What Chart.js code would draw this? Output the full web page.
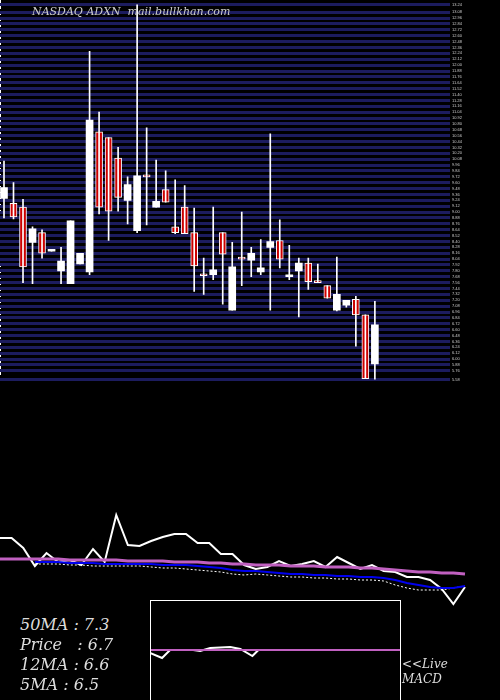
<!DOCTYPE html>
<html>
<head>
<script src="https://cdn.jsdelivr.net/npm/chart.js@4"></script>
<style>
  body { margin: 0; background: #000; width: 500px; height: 700px; position: relative; overflow: hidden; }
  canvas { position: absolute; }
  .txt { position: absolute; color: #ddd; font-family: "DejaVu Serif", serif; font-style: italic; white-space: pre; }
</style>
</head>
<body>
<canvas id="candles" style="left:0;top:0;width:500px;height:384px"></canvas>
<canvas id="ma" style="left:0;top:500px;width:500px;height:110px"></canvas>
<canvas id="macd" style="left:150px;top:600px;width:251px;height:100px"></canvas>
<div class="txt" style="left:32px;top:5px;font-size:11px;color:#ccc">NASDAQ ADXN  mail.bullkhan.com</div>
<div class="txt" style="left:20px;top:615px;font-size:16px">50MA : 7.3</div>
<div class="txt" style="left:20px;top:635px;font-size:16px">Price   : 6.7</div>
<div class="txt" style="left:20px;top:655px;font-size:16px">12MA : 6.6</div>
<div class="txt" style="left:20px;top:675px;font-size:16px">5MA : 6.5</div>
<div class="txt" style="left:402px;top:657px;font-size:12px">&lt;&lt;Live</div>
<div class="txt" style="left:402px;top:672px;font-size:12px">MACD</div>
<script>
// candles: open, high, low, close
const opens  = [9.28,9.18,9.10,8.38,8.58,8.20,7.80,7.54,7.94,7.78,10.64,10.52,10.10,9.24,8.62,9.76,9.10,9.46,8.70,9.10,8.58,7.74,7.72,8.58,7.00,8.08,8.02,7.78,8.28,8.42,7.68,7.80,7.96,7.60,7.50,7.00,7.10,7.22,6.90,5.90];
const highs  = [10.04,9.60,9.26,8.70,8.64,8.24,8.28,8.82,8.16,12.28,11.04,10.52,10.32,9.72,13.24,10.72,10.06,9.84,9.66,9.54,9.08,8.06,9.10,8.58,8.38,9.00,8.28,8.44,10.60,8.84,8.32,8.06,8.06,7.94,7.50,8.08,7.20,7.28,6.90,7.18];
const lows   = [8.88,8.86,7.56,7.54,8.06,8.20,7.54,7.54,7.94,7.72,8.96,8.42,9.02,8.76,8.58,8.74,9.10,9.20,8.56,8.56,7.38,7.32,7.62,7.12,7.00,7.50,7.68,7.72,7.00,7.86,7.62,6.86,7.42,7.56,7.24,6.98,7.06,6.26,5.60,5.58];
const closes = [9.50,8.90,7.88,8.66,8.16,8.24,8.00,8.82,8.16,10.88,9.10,9.02,9.30,9.56,9.74,9.72,9.22,9.20,8.58,8.56,7.90,7.70,7.82,8.14,7.88,8.04,8.16,7.86,8.40,8.04,7.70,7.96,7.58,7.56,7.24,7.32,7.20,6.90,5.60,6.70];

// lower panel lines
const priceLine = [7.2,7.2,6.2,4.4,5.7,4.8,5.0,4.5,6.1,4.8,9.5,6.5,6.4,6.9,7.3,7.6,7.6,6.7,6.7,5.6,5.6,4.5,4.1,4.3,4.9,4.4,4.6,4.9,4.3,5.3,4.7,4.1,4.5,3.9,3.8,3.3,3.3,3.0,2.1,0.6,2.3];
const ma50 = [5.1,5.1,5.1,5.1,5.1,5.1,5.0,5.0,5.0,5.0,5.0,4.9,4.9,4.9,4.9,4.8,4.8,4.8,4.7,4.7,4.6,4.6,4.5,4.5,4.5,4.4,4.4,4.4,4.3,4.3,4.3,4.2,4.2,4.1,4.0,3.9,3.8,3.8,3.7,3.7,3.6];
const ma12 = [null,null,null,4.8,4.8,4.8,4.7,4.7,4.7,4.6,4.6,4.6,4.6,4.6,4.5,4.5,4.5,4.4,4.3,4.2,4.0,3.9,3.9,3.8,3.7,3.6,3.6,3.5,3.5,3.4,3.4,3.3,3.3,3.2,3.0,2.7,2.5,2.3,2.2,2.2,2.4];
const ma5 = [null,null,null,4.6,4.6,4.6,4.5,4.5,4.4,4.4,4.4,4.4,4.4,4.3,4.2,4.2,4.1,4.0,3.9,3.8,3.6,3.5,3.6,3.5,3.4,3.3,3.3,3.2,3.2,3.1,3.1,3.0,3.0,2.9,2.5,2.2,2.0,2.0,2.0,2.2,2.4];

// macd box lines
const macdX = [0,12,20,43,50,60,80,90,102,108,237];
const macdLine = [-0.3,-0.8,0,0,-0.1,0.2,0.3,0.1,-0.6,0,0];

const isUp = opens.map((o, i) => closes[i] >= o);
const wicks = lows.map((l, i) => ({ x: i, y: [l, highs[i]] }));
const bodies = opens.map((o, i) => {
  let a = o, b = closes[i];
  if (Math.abs(a - b) < 0.04) b = a + (isUp[i] ? 0.04 : -0.04);
  return { x: i, y: [a, b] };
});

new Chart(document.getElementById("candles"), {
  type: "bar",
  data: {
    datasets: [
      { data: wicks, backgroundColor: "#fff", barThickness: 1, grouped: false },
      {
        data: bodies,
        backgroundColor: isUp.map(u => (u ? "#fff" : "#cc0000")),
        borderColor: "#fff",
        borderWidth: isUp.map(u => (u ? 0 : 1)),
        borderSkipped: false,
        barThickness: 7,
        grouped: false,
      },
    ],
  },
  options: {
    animation: false,
    responsive: false,
    devicePixelRatio: 1,
    layout: { padding: 0 },
    plugins: { legend: { display: false }, tooltip: { enabled: false } },
    scales: {
      x: { type: "linear", min: -0.42, max: 46.9, display: false, offset: false, grid: { offset: false } },
      y: {
        position: "right",
        min: 5.58,
        max: 13.24,
        afterFit: s => { s.width = 50; },
        ticks: { stepSize: 0.12, maxTicksLimit: 200, autoSkip: false, color: "#ccc", font: { size: 4 }, padding: 2, callback: v => v.toFixed(2) },
        grid: { color: "#1c1c5e", lineWidth: 3, drawTicks: false },
        border: { display: false },
      },
    },
  },
  plugins: [{
    id: "bg",
    beforeDraw(c) {
      const g = c.ctx;
      g.save();
      g.fillStyle = "#000";
      g.fillRect(0, 0, c.width, c.height);
      g.strokeStyle = "#fff";
      g.setLineDash([3, 3]);
      g.beginPath(); g.moveTo(0.5, 0); g.lineTo(0.5, c.chartArea.bottom); g.stroke();
      g.restore();
    },
  }],
});

new Chart(document.getElementById("ma"), {
  type: "line",
  data: {
    labels: priceLine.map((_, i) => i),
    datasets: [
      { data: ma50, borderColor: "#c060c0", borderWidth: 3, pointRadius: 0 },
      { data: ma12, borderColor: "#0000ee", borderWidth: 2, pointRadius: 0 },
      { data: ma5, borderColor: "#fff", borderWidth: 1, borderDash: [2, 2], pointRadius: 0 },
      { data: priceLine, borderColor: "#fff", borderWidth: 2, pointRadius: 0 },
    ],
  },
  options: {
    animation: false,
    responsive: false,
    devicePixelRatio: 1,
    layout: { padding: { left: 0, right: 35 } },
    plugins: { legend: { display: false }, tooltip: { enabled: false } },
    scales: {
      x: { display: false, offset: false },
      y: { display: false, min: 0, max: 11 },
    },
  },
});

new Chart(document.getElementById("macd"), {
  type: "line",
  data: {
    datasets: [
      { data: [{ x: 0, y: 0 }, { x: 250, y: 0 }], borderColor: "#c060c0", borderWidth: 2, pointRadius: 0 },
      { data: macdX.map((x, i) => ({ x: x, y: macdLine[i] })), borderColor: "#fff", borderWidth: 2, pointRadius: 0 },
    ],
  },
  options: {
    animation: false,
    responsive: false,
    devicePixelRatio: 1,
    layout: { padding: 0 },
    plugins: { legend: { display: false }, tooltip: { enabled: false } },
    scales: {
      x: { type: "linear", min: 0, max: 250, display: false },
      y: { min: -5, max: 5, display: false },
    },
  },
  plugins: [{
    id: "box",
    afterDraw(c) {
      const g = c.ctx;
      g.save();
      g.strokeStyle = "#fff";
      g.lineWidth = 1;
      g.strokeRect(0.5, 0.5, c.width - 1, c.height + 5);
      g.restore();
    },
  }],
});
</script>
</body>
</html>
